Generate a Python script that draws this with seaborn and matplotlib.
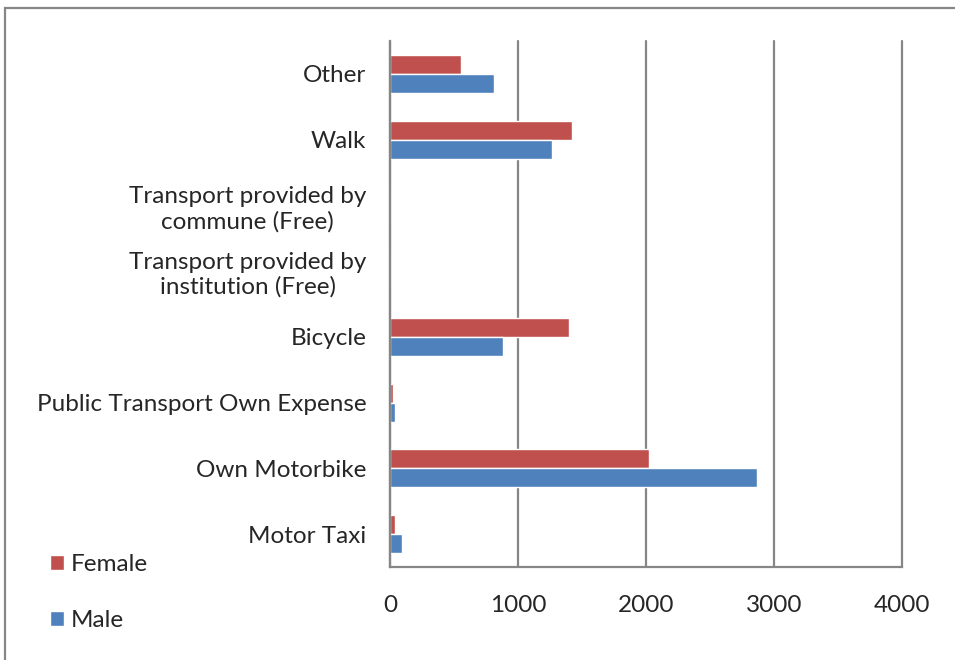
import matplotlib.pyplot as plt
from matplotlib.patches import Rectangle
import seaborn as sns
import pandas as pd

# categories listed top to bottom as they appear in the chart
categories = [
    "Other",
    "Walk",
    "Transport provided by\ncommune (Free)",
    "Transport provided by\ninstitution (Free)",
    "Bicycle",
    "Public Transport Own Expense",
    "Own Motorbike",
    "Motor Taxi",
]
female = [552, 1420, 0, 0, 1396, 21, 2022, 36]
male = [815, 1266, 0, 0, 885, 36, 2867, 91]
x_ticks = [0, 1000, 2000, 3000, 4000]

df = pd.DataFrame({
    "mode": categories * 2,
    "count": female + male,
    "gender": ["Female"] * len(categories) + ["Male"] * len(categories),
})

sns.set_style("white")
plt.rcParams["font.family"] = ["Lato", "DejaVu Sans"]
grey = "#868686"
fs = 17.5

fig = plt.figure(figsize=(9.55, 6.6), dpi=100)
ax = fig.add_axes([390 / 955, 1 - 567 / 660, 512 / 955, 526 / 660])

sns.barplot(data=df, y="mode", x="count", hue="gender", order=categories,
            hue_order=["Female", "Male"], orient="h",
            palette={"Female": "#C0504D", "Male": "#4F81BD"},
            saturation=1, width=0.58, ax=ax)

ax.set_xlim(0, 4000)
ax.set_xticks(x_ticks)
ax.set_xlabel("")
ax.set_ylabel("")
ax.xaxis.grid(True, color=grey, lw=1.6)
for gl in ax.get_xgridlines():
    gl.set_clip_on(False)
ax.set_axisbelow(True)
for side in ["top", "right"]:
    ax.spines[side].set_visible(False)
for side in ["left", "bottom"]:
    ax.spines[side].set_color(grey)
    ax.spines[side].set_linewidth(1.6)

# category boundary ticks on the left axis
ax.set_yticks([i - 0.5 for i in range(len(categories) + 1)], minor=True)
ax.tick_params(axis="y", which="major", length=0, pad=17, labelsize=fs)
ax.tick_params(axis="y", which="minor", length=7, width=1.6, color=grey, direction="out")
ax.tick_params(axis="x", length=7, width=1.6, color=grey, direction="out", pad=13, labelsize=fs)
for lbl in ax.get_yticklabels():
    lbl.set_multialignment("center")

handles, labels = ax.get_legend_handles_labels()
ax.get_legend().remove()
fig.legend(handles, labels, loc="upper left", bbox_to_anchor=(28 / 955, 1 - 532 / 660),
           frameon=False, fontsize=fs, handlelength=0.6, handleheight=0.6,
           handletextpad=0.25, labelspacing=1.45)

fig.add_artist(Rectangle((5 / 955, -0.1), 1.1, 1.1 - 8 / 660, transform=fig.transFigure,
                         fill=False, edgecolor=grey, lw=1.6))

fig.savefig("out.png", dpi=100)
